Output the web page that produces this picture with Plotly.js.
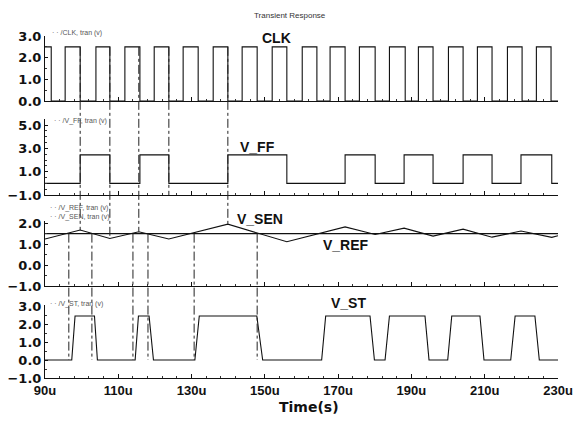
<!DOCTYPE html>
<html>
<head>
<meta charset="utf-8">
<script src="https://cdn.plot.ly/plotly-3.0.1.min.js"></script>
<style>html,body{margin:0;padding:0;background:#fff;}#chart{width:579px;height:421px;}</style>
</head>
<body>
<div id="chart"></div>
<script>
// ---- data (time in microseconds, volts) ----
const clkRise = [95.5, 103.9, 111.8, 119.8, 127.7, 135.9, 143.8, 152.0, 160.2, 167.8, 175.8, 184.0, 191.9, 200.1, 208.0, 216.2, 224.1];
const clkFall = [99.6, 107.7, 115.9, 123.8, 131.8, 139.9, 147.9, 156.0, 164.2, 171.9, 180.1, 188.3, 195.9, 204.1, 212.0, 220.2, 228.1];
const clkHigh = 2.5;
const clkFirstFall = 91.7;

const ffTime = [90, 99.6, 99.6, 107.7, 107.7, 115.9, 115.9, 123.8, 123.8, 139.9, 139.9, 156.0, 156.0, 171.9, 171.9, 180.1, 180.1, 188.0, 188.0, 195.9, 195.9, 204.1, 204.1, 212.0, 212.0, 219.9, 219.9, 228.3, 228.3, 230];
const ffVolt = [0, 0, 2.45, 2.45, 0, 0, 2.45, 2.45, 0, 0, 2.45, 2.45, 0, 0, 2.45, 2.45, 0, 0, 2.45, 2.45, 0, 0, 2.45, 2.45, 0, 0, 2.45, 2.45, 0, 0];

const senTime = [90, 99.6, 107.7, 115.6, 123.8, 139.9, 156.0, 171.9, 180.1, 188.0, 195.9, 204.1, 212.0, 219.9, 228.3, 230];
const senVolt = [1.24, 1.67, 1.27, 1.59, 1.24, 1.95, 1.11, 1.82, 1.46, 1.76, 1.38, 1.71, 1.33, 1.62, 1.32, 1.40];

const refTime = [90, 230];
const refVolt = [1.5, 1.5];

const stTime = [90, 97.3, 98.2, 103.5, 104.3, 114.6, 115.5, 118.4, 119.6, 130.9, 132.1, 147.8, 149.4, 165.5, 166.6, 178.7, 179.9, 182.8, 184.0, 193.7, 194.8, 199.9, 201.0, 208.7, 209.8, 217.1, 218.3, 223.7, 224.9, 230];
const stVolt = [0, 0, 2.45, 2.45, 0, 0, 2.45, 2.45, 0, 0, 2.45, 2.45, 0, 0, 2.45, 2.45, 0, 0, 2.45, 2.45, 0, 0, 2.45, 2.45, 0, 0, 2.45, 2.45, 0, 0];

// guide (cursor) lines drawn on the plot
const guideUpper = [99.6, 107.7, 115.6, 139.9];     // CLK edge -> V_SEN
const guideUpperShort = [123.8];                     // CLK edge -> bottom of V_FF
const guideLower = [96.5, 102.8, 114.0, 118.1, 130.7, 147.9]; // V_SEN/V_REF -> V_ST

const xTickVals = [90, 110, 130, 150, 170, 190, 210, 230];
const xTickText = ['90u', '110u', '130u', '150u', '170u', '190u', '210u', '230u'];
const yTicks1 = [0, 1, 2, 3];
const yTicks2 = [-1, 1, 3, 5];
const yTicks3 = [-1, 0, 1, 2];
const yTicks4 = [-1, 0, 1, 2, 3];

// ---- build CLK step trace from its edges ----
const clkT = [90, clkFirstFall, clkFirstFall];
const clkV = [clkHigh, clkHigh, 0];
for (let i = 0; i < clkRise.length; i++) {
  clkT.push(clkRise[i], clkRise[i], clkFall[i], clkFall[i]);
  clkV.push(0, clkHigh, clkHigh, 0);
}
clkT.push(230); clkV.push(0);

// ---- layout geometry ----
const dom = {1: [0.81, 1], 2: [0.535, 0.758], 3: [0.269, 0.459], 4: [0, 0.213]};
const rng = {1: [0, 3], 2: [-1, 5.55], 3: [-1, 2.1], 4: [-1, 3.05]};
function toPaper(p, v) {
  const d = dom[p], r = rng[p];
  return d[0] + (v - r[0]) / (r[1] - r[0]) * (d[1] - d[0]);
}
function interp(ts, vs, t) {
  for (let i = 0; i < ts.length - 1; i++) {
    if (t >= ts[i] && t <= ts[i + 1]) {
      if (ts[i + 1] === ts[i]) return vs[i];
      return vs[i] + (vs[i + 1] - vs[i]) * (t - ts[i]) / (ts[i + 1] - ts[i]);
    }
  }
  return vs[vs.length - 1];
}

const lineStyle = {color: '#111', width: 1.1};
const traces = [
  {x: clkT, y: clkV, xaxis: 'x', yaxis: 'y', mode: 'lines', line: lineStyle, name: 'CLK'},
  {x: ffTime, y: ffVolt, xaxis: 'x2', yaxis: 'y2', mode: 'lines', line: lineStyle, name: 'V_FF'},
  {x: refTime, y: refVolt, xaxis: 'x3', yaxis: 'y3', mode: 'lines', line: lineStyle, name: 'V_REF'},
  {x: senTime, y: senVolt, xaxis: 'x3', yaxis: 'y3', mode: 'lines', line: lineStyle, name: 'V_SEN'},
  {x: stTime, y: stVolt, xaxis: 'x4', yaxis: 'y4', mode: 'lines', line: lineStyle, name: 'V_ST'}
];

const yTickFont = {family: 'DejaVu Sans', size: 13, color: '#111', weight: 'bold'};
const xTickFont = {family: 'Liberation Sans', size: 13, color: '#111', weight: 'bold'};
function xAxis(anchor, labels) {
  const ax = {
    anchor: anchor, range: [90, 230], showline: true, linecolor: '#111', linewidth: 1,
    ticks: 'inside', ticklen: 4, tickcolor: '#111', tickvals: xTickVals,
    showticklabels: labels, showgrid: false, zeroline: false,
    minor: {ticks: 'inside', ticklen: 2, tickcolor: '#333', dtick: 4, tick0: 90, showgrid: false}
  };
  if (anchor !== 'y') ax.matches = 'x';
  if (labels) { ax.ticktext = xTickText; ax.tickfont = xTickFont; }
  return ax;
}
function yAxis(p, ticks) {
  return {
    domain: dom[p], range: rng[p], anchor: p === 1 ? 'x' : 'x' + p, showline: true, linecolor: '#111', linewidth: 1,
    ticks: 'inside', ticklen: 3, tickcolor: '#111', tickvals: ticks, tickformat: '.1f',
    tickfont: yTickFont, showgrid: false, zeroline: false, ticklabeloverflow: 'allow',
    minor: {ticks: 'inside', ticklen: 2, tickcolor: '#333', dtick: 0.5, showgrid: false}
  };
}

const shapes = [];
const guideLine = {color: '#222', width: 1, dash: 'dashdot'};
guideUpper.forEach(t => shapes.push({type: 'line', xref: 'x', yref: 'paper', x0: t, x1: t,
  y0: toPaper(1, clkHigh), y1: toPaper(3, interp(senTime, senVolt, t)), line: guideLine}));
guideUpperShort.forEach(t => shapes.push({type: 'line', xref: 'x', yref: 'paper', x0: t, x1: t,
  y0: toPaper(1, clkHigh), y1: toPaper(2, -1), line: guideLine}));
guideLower.forEach(t => shapes.push({type: 'line', xref: 'x', yref: 'paper', x0: t, x1: t,
  y0: toPaper(3, 1.5), y1: toPaper(4, 0), line: guideLine}));

function px(x) { return (x - 45) / 513; }
function py(y) { return 1 - (y - 36) / 342; }
const labFont = {family: 'Liberation Sans', size: 14, color: '#111', weight: 'bold'};
const tinyFont = {family: 'Liberation Sans', size: 7, color: '#555'};
const annotations = [
  {text: 'CLK', x: px(276), y: py(38), font: labFont},
  {text: 'V_FF', x: px(257), y: py(147), font: labFont},
  {text: 'V_SEN', x: px(260), y: py(219), font: labFont},
  {text: 'V_REF', x: px(346), y: py(245), font: labFont},
  {text: 'V_ST', x: px(348), y: py(303), font: labFont},
  {text: 'Time(s)', x: px(309), y: py(407), font: {family: 'DejaVu Sans', size: 14, color: '#111', weight: 'bold'}},
  {text: 'Transient Response', x: px(290), y: py(15), font: {family: 'Liberation Sans', size: 8, color: '#333'}},
  {text: '\u00b7 \u00b7 /CLK, tran (v)', x: px(50), y: py(33), xanchor: 'left', font: tinyFont},
  {text: '\u00b7 \u00b7 /V_FF, tran (v)', x: px(52), y: py(121), xanchor: 'left', font: tinyFont},
  {text: '\u00b7 \u00b7 /V_REF, tran (v)', x: px(48), y: py(208), xanchor: 'left', font: tinyFont},
  {text: '\u00b7 \u00b7 /V_SEN, tran (v)', x: px(48), y: py(217), xanchor: 'left', font: tinyFont},
  {text: '\u00b7 \u00b7 /V_ST, tran (v)', x: px(48), y: py(304), xanchor: 'left', font: tinyFont}
].map(a => Object.assign({xref: 'paper', yref: 'paper', showarrow: false, xanchor: 'center', yanchor: 'middle'}, a));

const layout = {
  width: 579, height: 421, margin: {l: 45, r: 21, t: 36, b: 43},
  paper_bgcolor: '#fff', plot_bgcolor: '#fff', showlegend: false,
  xaxis: xAxis('y', false), xaxis2: xAxis('y2', false), xaxis3: xAxis('y3', false),
  xaxis4: xAxis('y4', true),
  yaxis: yAxis(1, yTicks1), yaxis2: yAxis(2, yTicks2), yaxis3: yAxis(3, yTicks3), yaxis4: yAxis(4, yTicks4),
  shapes: shapes, annotations: annotations
};
Plotly.newPlot('chart', traces, layout, {staticPlot: true, displayModeBar: false});
</script>
</body>
</html>
